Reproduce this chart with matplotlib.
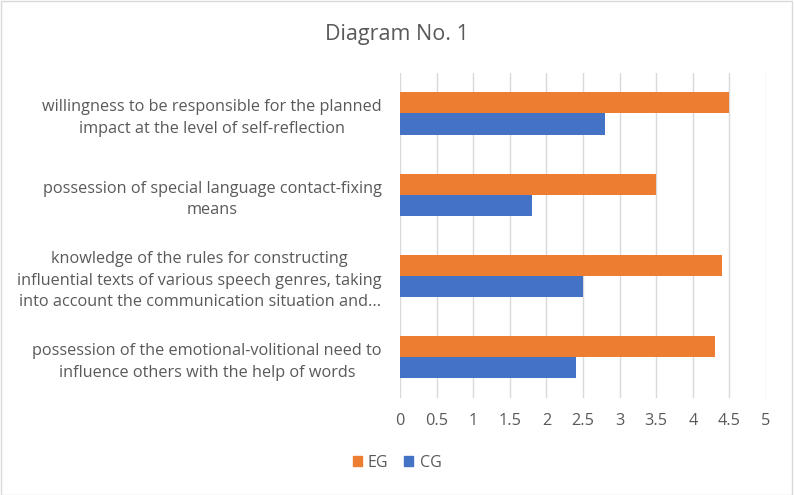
import matplotlib.pyplot as plt
import numpy as np
from matplotlib.patches import Patch, Rectangle

plt.rcParams['font.family'] = ['Open Sans', 'DejaVu Sans']

categories = [
    "willingness to be responsible for the planned\nimpact at the level of self-reflection",
    "possession of special language contact-fixing\nmeans",
    "knowledge of the rules for constructing\ninfluential texts of various speech genres, taking\ninto account the communication situation and...",
    "possession of the emotional-volitional need to\ninfluence others with the help of words",
]
eg = [4.5, 3.5, 4.4, 4.3]
cg = [2.8, 1.8, 2.5, 2.4]
series_names = ["EG", "CG"]
xticks = [0, 0.5, 1, 1.5, 2, 2.5, 3, 3.5, 4, 4.5, 5]

orange = "#ED7D31"
blue = "#4472C4"
txt = "#595959"

fig = plt.figure(figsize=(7.94, 4.95), dpi=100)
ax = fig.add_axes([0.5038, 0.196, 0.4609, 0.657])

y = np.arange(len(categories))
h = 0.26
ax.barh(y - h / 2, eg, height=h, color=orange, zorder=3)
ax.barh(y + h / 2, cg, height=h, color=blue, zorder=3)

ax.set_xlim(0, 5)
ax.set_ylim(len(categories) - 0.5, -0.5)
ax.set_xticks(xticks)
ax.set_xticklabels([f"{t:g}" for t in xticks])
ax.set_yticks(y)
ax.set_yticklabels(categories, ha="right", multialignment="center", linespacing=1.45)
ax.tick_params(axis="both", length=0, colors=txt, labelsize=11.7)
ax.tick_params(axis="x", pad=11)
ax.tick_params(axis="y", pad=13)
ax.grid(axis="x", color="#D9D9D9", linewidth=1, zorder=0)
for s in ax.spines.values():
    s.set_visible(False)

fig.text(0.5, 0.93, "Diagram No. 1", ha="center", va="center", fontsize=15.5, color=txt)

handles = [Patch(color=orange), Patch(color=blue)]
fig.legend(handles, series_names, loc="center", bbox_to_anchor=(0.5, 0.065), ncol=2,
           frameon=False, fontsize=11.5, labelcolor=txt, handlelength=0.55, handleheight=0.55,
           handletextpad=0.4, columnspacing=1.0)

fig.patches.append(Rectangle((0.001, 0.001), 0.997, 0.997, transform=fig.transFigure,
                             fill=False, edgecolor="#D9D9D9", linewidth=1))

fig.savefig("out.png", dpi=100)
